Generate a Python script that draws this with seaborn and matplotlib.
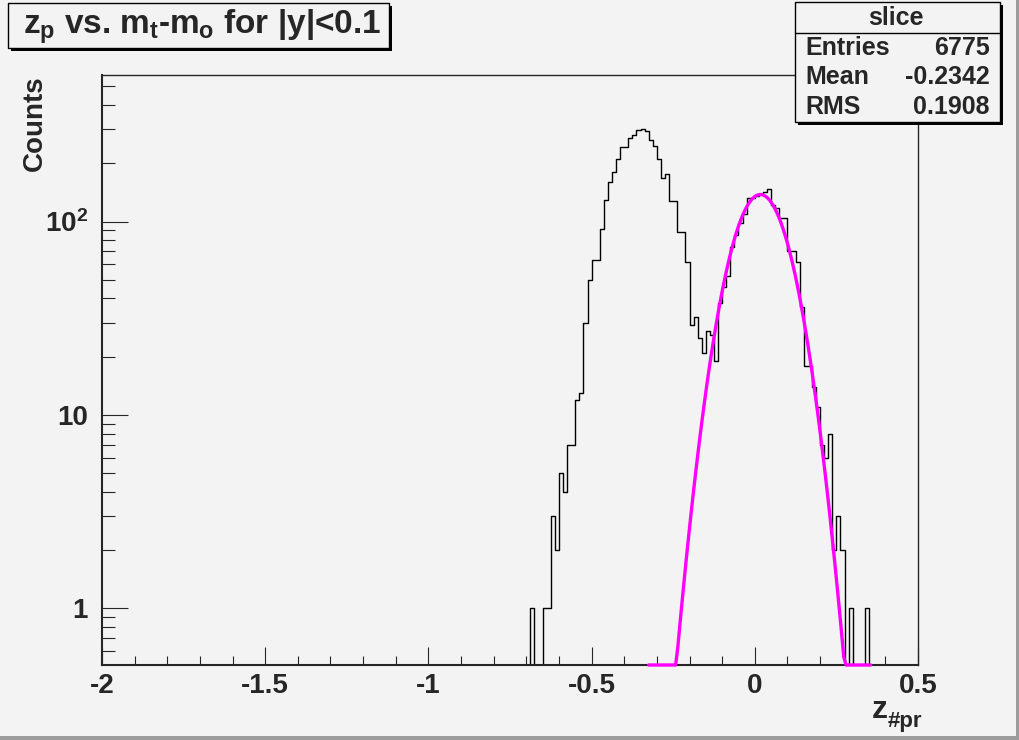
import numpy as np
import pandas as pd
import seaborn as sns
import matplotlib
matplotlib.use('Agg')
import matplotlib.pyplot as plt
from matplotlib.patches import Rectangle
from matplotlib.ticker import FixedLocator, LogLocator, MultipleLocator, NullFormatter

# 直方图: 200 个 bin, -2 ~ 0.5, 宽 0.0125
x_lo, x_hi, n_bins = -2.0, 0.5, 200
first_edge = -0.6875  # 第一个有计数的 bin
counts = [
    1, 0, 0, 1, 1, 3, 2, 5, 4, 7, 7, 12, 13,
    30, 50, 63, 63, 91, 129, 160, 180, 210, 244, 244, 272, 280, 297, 300,
    294, 264, 247, 210, 168, 177, 127, 127, 88, 88, 62,
    29, 32, 25, 21, 27, 26, 19, 38, 46, 52, 74, 85, 98, 110, 133, 133,
    136, 138, 142, 147, 122, 118, 104, 104, 70, 70, 62, 36, 18, 18, 14, 11,
    7, 6, 8, 2, 3, 2, 0, 1, 0, 0, 0, 1,
]

# 高斯拟合参数
fit_const = 138.0
fit_mean = 0.017
fit_sigma = 0.077
fit_range = (-0.325, 0.355)

# 统计框
stats_title = 'slice'
stats_names = ['Entries', 'Mean', 'RMS']
stats_values = ['6775', '-0.2342', '0.1908']

xticks = [-2, -1.5, -1, -0.5, 0, 0.5]
xtick_labels = ['-2', '-1.5', '-1', '-0.5', '0', '0.5']
yticks = [1, 10, 100]
ytick_labels = ['1', '10', r'$10^{2}$']
y_min, y_max = 0.5084, 572.6

W, H = 1020, 740
bg = '#f3f3f3'

sns.set_style('ticks')
plt.rcParams['font.family'] = ['Liberation Sans', 'DejaVu Sans']
plt.rcParams['font.weight'] = 'bold'
plt.rcParams['mathtext.fontset'] = 'custom'
plt.rcParams['mathtext.rm'] = 'Liberation Sans:bold'
plt.rcParams['mathtext.it'] = 'Liberation Sans:bold'
plt.rcParams['mathtext.bf'] = 'Liberation Sans:bold'
plt.rcParams['axes.unicode_minus'] = False

# 数据表
width = (x_hi - x_lo) / n_bins
centers = x_lo + width * (np.arange(n_bins) + 0.5)
all_counts = np.zeros(n_bins)
i0 = int(round((first_edge - x_lo) / width))
all_counts[i0:i0 + len(counts)] = counts
df = pd.DataFrame({'z': centers, 'n': all_counts})

fit_x = np.linspace(fit_range[0], fit_range[1], 100)
fit_y = fit_const * np.exp(-0.5 * ((fit_x - fit_mean) / fit_sigma) ** 2)
fit_y = np.maximum(fit_y, y_min)
df_fit = pd.DataFrame({'z': fit_x, 'f': fit_y})

fig = plt.figure(figsize=(W / 100, H / 100), dpi=100, facecolor=bg)
ax = fig.add_axes([102 / W, 75 / H, 816 / W, 590 / H], facecolor=bg)

sns.histplot(data=df, x='z', weights='n', bins=n_bins, binrange=(x_lo, x_hi),
             element='step', fill=False, color='black', linewidth=1.0, ax=ax)
ax.set_yscale('log', nonpositive='clip')
sns.lineplot(data=df_fit, x='z', y='f', color='#ff00ff', linewidth=2.4,
             errorbar=None, ax=ax)
fit_line = ax.lines[-1]
fit_line.set_clip_on(False)
fit_line.set_zorder(3)

ax.set_xlim(x_lo, x_hi)
ax.set_ylim(y_min, y_max)
ax.set_xlabel('')
ax.set_ylabel('')

ax.xaxis.set_major_locator(FixedLocator(xticks))
ax.set_xticklabels(xtick_labels)
ax.xaxis.set_minor_locator(MultipleLocator(0.1))
ax.yaxis.set_major_locator(FixedLocator(yticks))
ax.set_yticklabels(ytick_labels)
ax.yaxis.set_minor_locator(LogLocator(base=10, subs=np.arange(2, 10)))
ax.yaxis.set_minor_formatter(NullFormatter())

ax.tick_params(axis='x', which='major', direction='in', length=13, width=0.8,
               labelsize=20, pad=6, top=False)
ax.tick_params(axis='x', which='minor', direction='in', length=6.5, width=0.8, top=False)
ax.tick_params(axis='y', which='major', direction='in', length=18.5, width=0.8,
               labelsize=20, pad=10, right=False)
ax.tick_params(axis='y', which='minor', direction='in', length=9.3, width=0.8, right=False)

for s in ['left', 'bottom']:
    ax.spines[s].set_linewidth(1.5)
for s in ['top', 'right']:
    ax.spines[s].set_linewidth(1.0)


def box(x0, y0, x1, y1, **kw):
    r = Rectangle((x0 / W, 1 - y1 / H), (x1 - x0) / W, (y1 - y0) / H,
                  transform=fig.transFigure, **kw)
    fig.patches.append(r)


# 标题框
box(11, 6, 392, 51, facecolor='black', edgecolor='none')
box(8, 3, 389, 48, facecolor=bg, edgecolor='black', linewidth=1)
fig.text(23 / W, 1 - 34 / H, r'$z_{p}$ vs. $m_{t}$-$m_{o}$ for |y|<0.1',
         fontsize=24, ha='left', va='baseline')

# 统计框
box(798, 5, 1003, 125, facecolor='black', edgecolor='none')
box(795, 2, 1000, 122, facecolor=bg, edgecolor='black', linewidth=1)
fig.add_artist(plt.Line2D([795 / W, 1000 / W], [1 - 33 / H, 1 - 33 / H],
                          color='black', linewidth=1, transform=fig.transFigure))
fig.text(896 / W, 1 - 18 / H, stats_title, fontsize=18, ha='center', va='center')
for i, (name, val) in enumerate(zip(stats_names, stats_values)):
    yy = 1 - (48 + 29.5 * i) / H
    fig.text(805 / W, yy, name, fontsize=18, ha='left', va='center')
    fig.text(990 / W, yy, val, fontsize=18, ha='right', va='center')

# 轴标题
fig.text(35 / W, 1 - 75 / H, 'Counts', fontsize=20, rotation=90, ha='center', va='top')
fig.text(888 / W, 1 - 718 / H, 'z', fontsize=23, ha='right', va='baseline')
fig.text(888 / W, 1 - 727 / H, '#pr', fontsize=16, ha='left', va='baseline')

# 画布边框
box(1016, 0, 1020, 740, facecolor='#9c9c9c', edgecolor='none')
box(0, 736, 1020, 740, facecolor='#9c9c9c', edgecolor='none')

fig.savefig('out.png', dpi=100, facecolor=bg)
